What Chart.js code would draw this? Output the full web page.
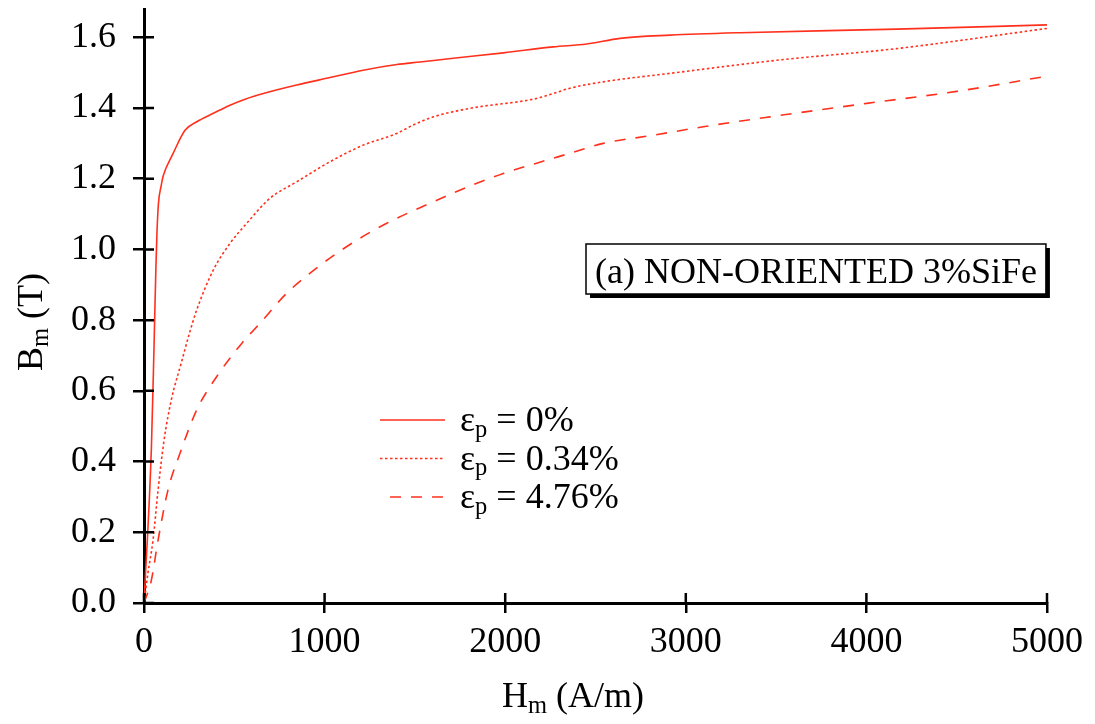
<!DOCTYPE html>
<html><head><meta charset="utf-8">
<script src="https://cdn.jsdelivr.net/npm/chart.js@4/dist/chart.umd.min.js"></script>
<style>html,body{margin:0;padding:0;background:#fff}</style>
</head><body>
<canvas id="c" width="1095" height="724"></canvas>
<script>
// ---- data ----
const hStrain0 = [0, 41, 55, 66, 72, 80, 95, 107, 160, 227, 292, 384, 476, 560, 661, 845, 1030, 1214, 1400, 1528, 1700, 1990, 2266, 2451, 2636, 2913, 3300, 4168, 5000];
const bStrain0 = [0, 0.44, 0.715, 0.95, 1.05, 1.13, 1.18, 1.209, 1.27, 1.337, 1.361, 1.385, 1.408, 1.425, 1.441, 1.465, 1.486, 1.507, 1.523, 1.53, 1.54, 1.556, 1.573, 1.581, 1.597, 1.606, 1.613, 1.623, 1.635];

const hStrain034 = [0, 22, 50, 78, 111, 151, 207, 250, 292, 384, 476, 569, 698, 845, 1030, 1214, 1399, 1491, 1602, 1805, 2174, 2266, 2359, 2543, 2913, 3522, 4168, 5000];
const bStrain034 = [0, 0.085, 0.178, 0.32, 0.46, 0.574, 0.68, 0.76, 0.829, 0.942, 1.017, 1.074, 1.145, 1.191, 1.248, 1.295, 1.328, 1.352, 1.375, 1.399, 1.427, 1.441, 1.456, 1.474, 1.498, 1.536, 1.568, 1.625];

const hStrain476 = [0, 41, 78, 133, 199, 292, 402, 541, 642, 790, 975, 1159, 1344, 1528, 1823, 1990, 2174, 2359, 2543, 2820, 3097, 3466, 4002, 4500, 5000];
const bStrain476 = [0, 0.065, 0.178, 0.32, 0.423, 0.546, 0.64, 0.734, 0.791, 0.876, 0.955, 1.02, 1.074, 1.118, 1.183, 1.215, 1.244, 1.272, 1.30, 1.323, 1.347, 1.375, 1.413, 1.447, 1.49];

const seriesLabels = ['ε_p = 0%', 'ε_p = 0.34%', 'ε_p = 4.76%'];
const xTickValues = [0, 1000, 2000, 3000, 4000, 5000];
const yTickValues = [0, 0.2, 0.4, 0.6, 0.8, 1.0, 1.2, 1.4, 1.6];
const xTitle = 'H_m (A/m)';
const yTitle = 'B_m (T)';
const boxText = '(a) NON-ORIENTED 3%SiFe';

// ---- styling ----
const RED = 'rgb(255,48,28)';
const FONT = '"Liberation Serif", "Times New Roman", serif';
const FS = 36;

function richParts(s){
  const parts=[];
  for(let i=0;i<s.length;i++){
    if(s[i]==='_'){ parts.push({t:s[i+1],sub:true}); i++; }
    else if(parts.length && !parts[parts.length-1].sub) parts[parts.length-1].t+=s[i];
    else parts.push({t:s[i],sub:false});
  }
  return parts;
}
function drawRich(ctx, s, x, y, size, measureOnly){
  let cx=x;
  for(const p of richParts(s)){
    const fs = p.sub ? size*0.68 : size;
    ctx.font = fs+'px '+FONT;
    if(!measureOnly) ctx.fillText(p.t, cx, p.sub ? y+size*0.16 : y);
    cx += ctx.measureText(p.t).width;
  }
  return cx-x;
}

const decor = {
  id:'decor',
  afterDatasetsDraw(chart){
    const ctx=chart.ctx, a=chart.chartArea, sx=chart.scales.x, sy=chart.scales.y;
    ctx.save();
    ctx.strokeStyle='#000'; ctx.lineWidth=2.5;
    // inner halves of the crossing tick marks
    ctx.beginPath();
    xTickValues.forEach(v=>{const px=sx.getPixelForValue(v); ctx.moveTo(px,a.bottom); ctx.lineTo(px,a.bottom-10);});
    yTickValues.forEach(v=>{const py=sy.getPixelForValue(v); ctx.moveTo(a.left,py); ctx.lineTo(a.left+10,py);});
    ctx.stroke();

    ctx.fillStyle='#000'; ctx.textBaseline='alphabetic'; ctx.textAlign='left';
    // x title
    const wX = drawRich(ctx, xTitle, 0, 0, FS, true);
    drawRich(ctx, xTitle, 573 - wX/2, 707, FS);
    // y title (rotated)
    const wY = drawRich(ctx, yTitle, 0, 0, FS, true);
    ctx.save(); ctx.translate(42, 322); ctx.rotate(-Math.PI/2);
    drawRich(ctx, yTitle, -wY/2, 0, FS);
    ctx.restore();

    // annotation box with shadow
    ctx.font = FS+'px '+FONT;
    const tw = ctx.measureText(boxText).width;
    const bx=586, by=244, bw=tw+18, bh=50;
    ctx.fillStyle='#000'; ctx.fillRect(bx+4,by+4,bw,bh);
    ctx.fillStyle='#fff'; ctx.fillRect(bx,by,bw,bh);
    ctx.lineWidth=1.5; ctx.strokeStyle='#000'; ctx.strokeRect(bx,by,bw,bh);
    ctx.fillStyle='#000'; ctx.fillText(boxText, bx+9, by+39);

    // legend
    chart.data.datasets.forEach((ds,i)=>{
      const ly = 420 + i*38.5;
      ctx.save();
      ctx.strokeStyle=ds.borderColor; ctx.lineWidth=ds.borderWidth;
      ctx.setLineDash(ds.borderDash||[]);
      ctx.beginPath();
      const x0 = i===2 ? 390 : 380;
      ctx.moveTo(x0, ly); ctx.lineTo(445, ly); ctx.stroke();
      ctx.restore();
      ctx.fillStyle='#000';
      drawRich(ctx, seriesLabels[i], 460, ly+11, FS);
    });
    ctx.restore();
  }
};

function pts(h,b){ return h.map((v,i)=>({x:v,y:b[i]})); }
const tickFont = {family:'Liberation Serif', size:FS};

new Chart(document.getElementById('c'), {
  type:'line',
  data:{ datasets:[
    {label:seriesLabels[0], data:pts(hStrain0,bStrain0), borderColor:RED, borderWidth:1.6, pointRadius:0, cubicInterpolationMode:'monotone', borderDash:[]},
    {label:seriesLabels[1], data:pts(hStrain034,bStrain034), borderColor:RED, borderWidth:1.6, pointRadius:0, cubicInterpolationMode:'monotone', borderDash:[2.5,2.5]},
    {label:seriesLabels[2], data:pts(hStrain476,bStrain476), borderColor:RED, borderWidth:1.6, pointRadius:0, cubicInterpolationMode:'monotone', borderDash:[11,10]}
  ]},
  options:{
    responsive:false, animation:false,
    layout:{padding:{top:9, right:48, left:0, bottom:0}},
    plugins:{legend:{display:false}, tooltip:{enabled:false}},
    scales:{
      x:{ type:'linear', min:0, max:5000,
        afterFit(s){ s.height=121; s.paddingLeft=0; s.paddingRight=0; },
        afterBuildTicks(s){ s.ticks = xTickValues.map(v=>({value:v})); },
        grid:{drawOnChartArea:false, drawTicks:true, tickLength:10, color:'#000', lineWidth:2.5},
        border:{display:true, color:'#000', width:3},
        ticks:{font:tickFont, color:'#000', padding:8, maxRotation:0, autoSkip:false, callback:v=>String(v)}
      },
      y:{ type:'linear', min:0, max:1.68,
        afterFit(s){ s.width=144; s.paddingTop=0; s.paddingBottom=0; },
        afterBuildTicks(s){ s.ticks = yTickValues.map(v=>({value:v})); },
        grid:{drawOnChartArea:false, drawTicks:true, tickLength:11, color:'#000', lineWidth:2.5},
        border:{display:true, color:'#000', width:3},
        ticks:{font:tickFont, color:'#000', padding:17, autoSkip:false, callback:v=>Number(v).toFixed(1)}
      }
    }
  },
  plugins:[decor]
});
</script>
</body></html>
